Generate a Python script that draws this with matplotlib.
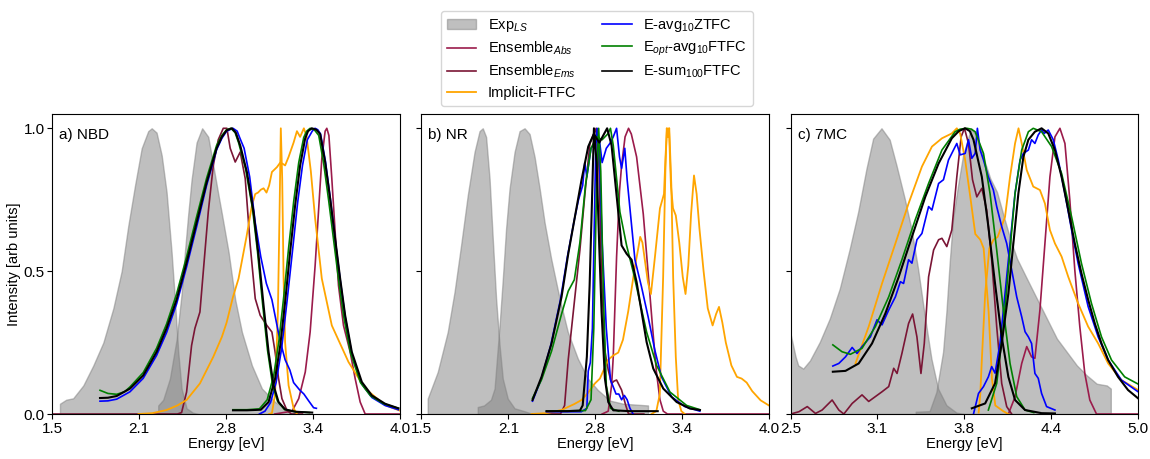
import numpy as np
import matplotlib
matplotlib.use('Agg')
import matplotlib.pyplot as plt
from matplotlib.patches import Patch
from matplotlib.lines import Line2D
from matplotlib.ticker import FormatStrFormatter

plt.rcParams['font.family'] = ['Liberation Sans', 'DejaVu Sans']
plt.rcParams['font.size'] = 10.5
plt.rcParams['mathtext.fontset'] = 'custom'
plt.rcParams['mathtext.rm'] = 'Liberation Sans'
plt.rcParams['mathtext.it'] = 'Liberation Sans:italic'

# colours
c_abs = '#9b1b4b'
c_ems = '#7a1535'
c_impl = 'orange'
c_zt = 'blue'
c_opt = 'green'
c_sum = 'black'

# ---------------- a) NBD ----------------
nbd_exp_1 = [(1.555, 0.036), (1.60, 0.05), (1.65, 0.055), (1.723, 0.10), (1.795, 0.17), (1.867, 0.25),
             (1.939, 0.37), (1.999, 0.50), (2.047, 0.66), (2.095, 0.80), (2.143, 0.93), (2.19, 0.99),
             (2.215, 1.0), (2.25, 0.985), (2.287, 0.905), (2.322, 0.777), (2.358, 0.567), (2.382, 0.40),
             (2.406, 0.217), (2.43, 0.089), (2.466, 0.02), (2.51, 0.005), (2.55, 0.0)]
nbd_exp_2 = [(2.262, 0.03), (2.298, 0.05), (2.346, 0.124), (2.394, 0.26), (2.43, 0.42), (2.454, 0.567),
             (2.478, 0.70), (2.502, 0.82), (2.538, 0.95), (2.578, 1.0), (2.622, 0.97), (2.658, 0.87),
             (2.694, 0.77), (2.72, 0.70), (2.768, 0.567), (2.816, 0.40), (2.864, 0.287), (2.936, 0.17),
             (3.008, 0.089), (3.103, 0.042), (3.2, 0.014), (3.27, 0.005)]
nbd_ens_ems = [(1.5, 0.0), (2.40, 0.0), (2.43, 0.005), (2.466, 0.077), (2.502, 0.24), (2.526, 0.30),
               (2.562, 0.357), (2.586, 0.497), (2.622, 0.707), (2.658, 0.87), (2.694, 0.96), (2.73, 1.0),
               (2.756, 1.0), (2.78, 0.93), (2.816, 0.882), (2.852, 0.917), (2.888, 0.824), (2.924, 0.59),
               (2.96, 0.404), (2.996, 0.345), (3.044, 0.31), (3.08, 0.287), (3.103, 0.217), (3.128, 0.124),
               (3.152, 0.054), (3.188, 0.013), (3.22, 0.0), (3.3, 0.0)]
nbd_ens_abs = [(3.1, 0.0), (3.225, 0.01), (3.273, 0.054), (3.32, 0.147), (3.355, 0.287), (3.391, 0.52),
               (3.415, 0.707), (3.439, 0.894), (3.463, 0.99), (3.475, 1.0), (3.49, 0.975), (3.511, 0.824),
               (3.535, 0.637), (3.559, 0.45), (3.595, 0.31), (3.643, 0.217), (3.679, 0.124), (3.715, 0.042),
               (3.751, 0.0), (4.0, 0.0)]
nbd_impl_1 = [(2.12, 0.0), (2.22, 0.003), (2.322, 0.014), (2.40, 0.03), (2.466, 0.049), (2.562, 0.107),
              (2.658, 0.20), (2.72, 0.27), (2.754, 0.32), (2.80, 0.41), (2.84, 0.474), (2.897, 0.62),
              (2.936, 0.73), (2.96, 0.77), (2.98, 0.775), (3.0, 0.785), (3.02, 0.79), (3.041, 0.775),
              (3.06, 0.80), (3.08, 0.847), (3.116, 0.864), (3.14, 0.88), (3.16, 0.875), (3.175, 0.87),
              (3.2, 0.90), (3.236, 0.95), (3.26, 0.99), (3.283, 0.97), (3.31, 1.0), (3.33, 0.97),
              (3.36, 0.85), (3.391, 0.684), (3.439, 0.474), (3.511, 0.31), (3.631, 0.182), (3.751, 0.089),
              (3.894, 0.031), (4.0, 0.012)]
nbd_impl_2 = [(3.06, 0.0), (3.08, 0.003), (3.103, 0.07), (3.123, 0.357), (3.135, 0.707), (3.144, 1.0),
              (3.154, 0.824), (3.164, 0.474), (3.175, 0.25), (3.2, 0.10), (3.236, 0.02), (3.26, 0.0)]
nbd_zt_ems = [(1.843, 0.045), (1.90, 0.046), (1.963, 0.052), (2.059, 0.078), (2.154, 0.125), (2.25, 0.205),
              (2.322, 0.285), (2.394, 0.385), (2.466, 0.515), (2.538, 0.655), (2.61, 0.80), (2.682, 0.925),
              (2.72, 0.965), (2.754, 0.99), (2.80, 1.0), (2.83, 0.99), (2.85, 0.965), (2.88, 0.93),
              (2.92, 0.83), (2.96, 0.67), (3.0, 0.55), (3.04, 0.457), (3.08, 0.40), (3.137, 0.26),
              (3.175, 0.19), (3.209, 0.154), (3.236, 0.11), (3.28, 0.084), (3.31, 0.07), (3.343, 0.047),
              (3.38, 0.022), (3.40, 0.02)]
nbd_zt_abs = [(2.99, 0.0), (3.03, 0.01), (3.07, 0.04), (3.11, 0.11), (3.15, 0.23), (3.19, 0.40),
              (3.23, 0.58), (3.265, 0.74), (3.30, 0.87), (3.335, 0.96), (3.37, 0.99), (3.39, 1.0),
              (3.41, 0.995), (3.43, 0.98), (3.465, 0.885), (3.50, 0.755), (3.535, 0.61), (3.571, 0.47),
              (3.607, 0.34), (3.655, 0.21), (3.727, 0.105), (3.799, 0.058), (3.894, 0.03), (3.99, 0.015)]
nbd_opt_ems = [(1.843, 0.083), (1.90, 0.072), (1.963, 0.069), (2.02, 0.078), (2.059, 0.095), (2.154, 0.145),
               (2.25, 0.23), (2.322, 0.315), (2.394, 0.42), (2.466, 0.55), (2.538, 0.69), (2.61, 0.825),
               (2.682, 0.94), (2.72, 0.975), (2.754, 0.995), (2.785, 1.0), (2.815, 0.985), (2.84, 0.95),
               (2.89, 0.86), (2.94, 0.72), (2.976, 0.57), (3.012, 0.39), (3.048, 0.225), (3.084, 0.105),
               (3.12, 0.045), (3.17, 0.016), (3.25, 0.008), (3.35, 0.005)]
nbd_opt_abs = [(2.80, 0.015), (2.90, 0.015), (2.99, 0.018), (3.046, 0.05), (3.093, 0.135), (3.13, 0.255),
               (3.165, 0.41), (3.201, 0.585), (3.237, 0.745), (3.273, 0.88), (3.309, 0.968), (3.33, 0.99),
               (3.355, 1.0), (3.385, 0.995), (3.417, 0.975), (3.453, 0.875), (3.489, 0.745),
               (3.525, 0.605), (3.561, 0.465), (3.597, 0.34), (3.645, 0.215), (3.717, 0.11),
               (3.789, 0.064), (3.884, 0.036), (3.99, 0.02)]
nbd_sum_ems = [(1.843, 0.056), (1.90, 0.057), (1.963, 0.063), (2.059, 0.089), (2.154, 0.135), (2.25, 0.217),
               (2.322, 0.30), (2.394, 0.40), (2.466, 0.53), (2.538, 0.67), (2.61, 0.81), (2.682, 0.93),
               (2.72, 0.97), (2.754, 0.993), (2.792, 1.0), (2.82, 0.985), (2.852, 0.94), (2.90, 0.847),
               (2.948, 0.707), (2.984, 0.555), (3.02, 0.38), (3.056, 0.217), (3.092, 0.10), (3.128, 0.042),
               (3.175, 0.016), (3.25, 0.008), (3.37, 0.005)]
nbd_sum_abs = [(2.80, 0.013), (2.90, 0.013), (3.0, 0.015), (3.056, 0.042), (3.103, 0.124), (3.14, 0.24),
               (3.175, 0.392), (3.211, 0.567), (3.247, 0.73), (3.283, 0.87), (3.319, 0.964), (3.34, 0.99),
               (3.367, 1.0), (3.40, 0.995), (3.427, 0.98), (3.463, 0.882), (3.499, 0.754), (3.535, 0.614),
               (3.571, 0.474), (3.607, 0.345), (3.655, 0.217), (3.727, 0.112), (3.799, 0.065),
               (3.894, 0.036), (3.99, 0.02)]

# ---------------- b) NR ----------------
nr_exp_1 = [(1.545, 0.054), (1.617, 0.147), (1.689, 0.287), (1.738, 0.427), (1.785, 0.59), (1.833, 0.765),
            (1.882, 0.917), (1.918, 0.99), (1.941, 1.0), (1.965, 0.97), (1.99, 0.824), (2.013, 0.614),
            (2.037, 0.404), (2.062, 0.24), (2.085, 0.124), (2.121, 0.054), (2.17, 0.02), (2.24, 0.01),
            (2.30, 0.0)]
nr_exp_2 = [(1.905, 0.0245), (1.95, 0.03), (2.0, 0.05), (2.026, 0.089), (2.062, 0.31), (2.085, 0.47),
            (2.109, 0.649), (2.134, 0.789), (2.17, 0.917), (2.206, 0.99), (2.242, 1.0), (2.278, 0.98),
            (2.314, 0.90), (2.35, 0.79), (2.386, 0.67), (2.433, 0.544), (2.494, 0.404), (2.553, 0.287),
            (2.625, 0.194), (2.697, 0.124), (2.769, 0.084), (2.856, 0.047), (2.952, 0.036), (3.13, 0.03)]
nr_ens_ems = [(2.30, 0.0), (2.50, 0.0), (2.53, 0.03), (2.556, 0.19), (2.604, 0.41), (2.64, 0.574),
              (2.676, 0.77), (2.712, 0.947), (2.757, 1.0), (2.776, 0.88), (2.796, 0.48), (2.82, 0.22),
              (2.844, 0.154), (2.868, 0.107), (2.885, 0.115), (2.904, 0.119), (2.94, 0.084), (2.97, 0.03),
              (2.99, 0.0), (3.1, 0.0)]
nr_ens_abs = [(2.80, 0.0), (2.844, 0.01), (2.868, 0.1), (2.88, 0.2), (2.904, 0.55), (2.925, 0.78),
              (2.94, 0.87), (2.965, 0.97), (2.99, 1.0), (3.01, 0.98), (3.048, 0.90), (3.096, 0.70),
              (3.13, 0.50), (3.16, 0.32), (3.19, 0.15), (3.216, 0.05), (3.24, 0.01), (3.27, 0.0), (4.0, 0.0)]
nr_impl_1 = [(2.292, 0.0), (2.40, 0.003), (2.508, 0.014), (2.60, 0.035), (2.652, 0.049), (2.70, 0.075),
             (2.748, 0.107), (2.784, 0.124), (2.844, 0.19), (2.88, 0.205), (2.916, 0.215), (2.95, 0.26),
             (2.988, 0.36), (3.036, 0.516), (3.06, 0.58), (3.074, 0.62), (3.09, 0.60), (3.107, 0.54),
             (3.13, 0.46), (3.151, 0.42), (3.18, 0.55), (3.216, 0.72), (3.245, 0.77), (3.256, 0.9),
             (3.267, 1.0), (3.274, 0.97), (3.281, 1.0), (3.295, 0.8), (3.31, 0.72), (3.33, 0.695),
             (3.355, 0.60), (3.38, 0.48), (3.40, 0.42), (3.42, 0.52), (3.44, 0.70), (3.461, 0.835),
             (3.48, 0.77), (3.50, 0.65), (3.53, 0.50), (3.56, 0.37), (3.595, 0.31), (3.62, 0.35),
             (3.641, 0.375), (3.665, 0.32), (3.69, 0.25), (3.73, 0.17), (3.77, 0.13), (3.804, 0.124),
             (3.84, 0.11), (3.88, 0.08), (3.94, 0.048), (4.0, 0.03)]
nr_impl_2 = [(3.155, 0.0), (3.19, 0.01), (3.215, 0.07), (3.239, 0.48), (3.255, 0.85), (3.265, 1.0),
             (3.274, 0.97), (3.283, 1.0), (3.298, 0.8), (3.311, 0.48), (3.33, 0.2), (3.347, 0.05),
             (3.37, 0.01), (3.395, 0.0)]
nr_zt_ems = [(2.299, 0.045), (2.36, 0.12), (2.43, 0.24), (2.50, 0.40), (2.55, 0.55), (2.60, 0.68),
             (2.63, 0.75), (2.66, 0.80), (2.675, 0.88), (2.69, 0.83), (2.72, 0.93), (2.75, 0.95),
             (2.78, 0.96), (2.80, 0.88), (2.83, 0.93), (2.86, 0.95), (2.88, 0.97), (2.904, 1.0),
             (2.925, 0.90), (2.94, 0.86), (2.963, 0.93), (2.98, 0.82), (3.0, 0.72), (3.036, 0.54),
             (3.083, 0.446), (3.131, 0.34), (3.179, 0.224), (3.227, 0.13), (3.30, 0.06), (3.395, 0.026),
             (3.503, 0.01)]
nr_zt_abs = [(2.40, 0.008), (2.65, 0.008), (2.69, 0.02), (2.70, 0.15), (2.715, 0.18), (2.73, 0.30),
             (2.745, 0.70), (2.755, 0.95), (2.764, 1.0), (2.78, 0.9), (2.80, 0.6), (2.83, 0.30),
             (2.86, 0.12), (2.90, 0.07), (2.92, 0.07), (2.94, 0.05), (2.96, 0.065), (2.98, 0.05),
             (3.0, 0.02), (3.023, 0.0)]
nr_opt_ems = [(2.299, 0.055), (2.364, 0.12), (2.436, 0.22), (2.508, 0.35), (2.556, 0.43), (2.60, 0.47),
              (2.64, 0.60), (2.68, 0.80), (2.72, 0.93), (2.76, 0.97), (2.80, 0.96), (2.84, 0.98),
              (2.86, 1.0), (2.88, 0.94), (2.928, 0.707), (2.976, 0.59), (3.024, 0.497), (3.072, 0.392),
              (3.12, 0.287), (3.192, 0.17), (3.288, 0.077), (3.408, 0.03), (3.504, 0.015)]
nr_opt_abs = [(2.40, 0.01), (2.68, 0.012), (2.72, 0.05), (2.74, 0.3), (2.76, 0.8), (2.775, 1.0),
              (2.79, 0.85), (2.81, 0.4), (2.83, 0.1), (2.86, 0.02), (2.92, 0.01)]
nr_sum_ems = [(2.299, 0.049), (2.364, 0.13), (2.436, 0.247), (2.508, 0.41), (2.556, 0.56), (2.604, 0.69),
              (2.652, 0.82), (2.70, 0.936), (2.74, 0.98), (2.78, 0.95), (2.836, 1.0), (2.868, 0.94),
              (2.904, 0.765), (2.94, 0.59), (2.976, 0.561), (3.012, 0.54), (3.048, 0.462), (3.084, 0.357),
              (3.12, 0.252), (3.168, 0.159), (3.24, 0.089), (3.336, 0.042), (3.432, 0.019), (3.504, 0.014)]
nr_sum_abs = [(2.40, 0.01), (2.55, 0.01), (2.64, 0.012), (2.66, 0.03), (2.69, 0.2), (2.71, 0.45),
              (2.73, 0.8), (2.741, 1.0), (2.76, 0.88), (2.779, 0.59), (2.796, 0.357), (2.82, 0.124),
              (2.844, 0.042), (2.88, 0.013), (3.0, 0.01), (3.20, 0.01)]

# ---------------- c) 7MC ----------------
mc_exp_1 = [(2.5, 0.28), (2.536, 0.2), (2.555, 0.17), (2.591, 0.159), (2.639, 0.187), (2.71, 0.252),
            (2.782, 0.334), (2.854, 0.439), (2.926, 0.579), (2.986, 0.707), (3.046, 0.859), (3.094, 0.964),
            (3.154, 1.0), (3.213, 0.96), (3.262, 0.87), (3.321, 0.754), (3.369, 0.649), (3.417, 0.509),
            (3.465, 0.345), (3.513, 0.194), (3.561, 0.089), (3.621, 0.031), (3.693, 0.005), (3.75, 0.0)]
mc_exp_2 = [(3.40, 0.008), (3.50, 0.01), (3.549, 0.077), (3.597, 0.217), (3.621, 0.357), (3.645, 0.532),
            (3.669, 0.684), (3.705, 0.80), (3.741, 0.905), (3.78, 0.97), (3.80, 1.0), (3.828, 0.98),
            (3.865, 0.93), (3.937, 0.824), (3.985, 0.777), (4.032, 0.695), (4.08, 0.614), (4.129, 0.544),
            (4.2, 0.474), (4.272, 0.404), (4.344, 0.334), (4.416, 0.264), (4.488, 0.217), (4.56, 0.17),
            (4.632, 0.135), (4.703, 0.106), (4.775, 0.10), (4.804, 0.089)]
mc_ens_ems = [(2.5, 0.0), (2.56, 0.008), (2.62, 0.026), (2.679, 0.002), (2.727, 0.014), (2.799, 0.049),
              (2.847, 0.014), (2.883, 0.0), (2.943, 0.037), (3.014, 0.067), (3.062, 0.044), (3.11, 0.061),
              (3.158, 0.078), (3.206, 0.096), (3.242, 0.16), (3.266, 0.142), (3.301, 0.212), (3.349, 0.317),
              (3.378, 0.35), (3.409, 0.27), (3.438, 0.142), (3.462, 0.247), (3.493, 0.48), (3.529, 0.574),
              (3.565, 0.61), (3.589, 0.615), (3.624, 0.586), (3.66, 0.644), (3.696, 0.83), (3.727, 0.97),
              (3.751, 1.0), (3.78, 0.947), (3.809, 0.82), (3.84, 0.76), (3.876, 0.79), (3.911, 0.714),
              (3.947, 0.54), (3.983, 0.306), (4.019, 0.107), (4.055, 0.026), (4.091, 0.0)]
mc_ens_abs = [(4.067, 0.0), (4.115, 0.06), (4.163, 0.177), (4.199, 0.236), (4.234, 0.20), (4.258, 0.195),
              (4.294, 0.364), (4.33, 0.597), (4.366, 0.83), (4.402, 0.97), (4.438, 1.0), (4.474, 0.947),
              (4.509, 0.75), (4.545, 0.504), (4.581, 0.306), (4.617, 0.142), (4.653, 0.049), (4.701, 0.0),
              (5.0, 0.0)]
mc_impl_1 = [(2.967, 0.177), (3.062, 0.306), (3.158, 0.457), (3.254, 0.597), (3.349, 0.737), (3.445, 0.866),
             (3.517, 0.936), (3.589, 0.965), (3.66, 0.982), (3.696, 1.0), (3.72, 0.982), (3.756, 0.889),
             (3.793, 0.76), (3.829, 0.63), (3.865, 0.61), (3.889, 0.58), (3.925, 0.357), (3.949, 0.124),
             (3.973, 0.03), (4.03, 0.01), (4.067, 0.0)]
mc_impl_2 = [(3.853, 0.005), (3.865, 0.07), (3.877, 0.20), (3.90, 0.42), (3.93, 0.58), (3.96, 0.61),
             (3.99, 0.62), (4.043, 0.69), (4.079, 0.83), (4.115, 0.947), (4.14, 1.0), (4.163, 0.947),
             (4.199, 0.854), (4.246, 0.796), (4.294, 0.784), (4.33, 0.737), (4.366, 0.644), (4.402, 0.597),
             (4.45, 0.551), (4.498, 0.48), (4.569, 0.387), (4.641, 0.306), (4.713, 0.247), (4.785, 0.177),
             (4.88, 0.119), (5.0, 0.084)]
mc_zt_ems = [(2.804, 0.168), (2.847, 0.177), (2.895, 0.2), (2.943, 0.233), (2.978, 0.212), (3.014, 0.236),
             (3.074, 0.27), (3.122, 0.33), (3.158, 0.312), (3.206, 0.364), (3.254, 0.41), (3.29, 0.463),
             (3.313, 0.457), (3.349, 0.54), (3.373, 0.528), (3.409, 0.61), (3.445, 0.632), (3.493, 0.726),
             (3.517, 0.714), (3.565, 0.807), (3.60, 0.82), (3.636, 0.889), (3.672, 0.924), (3.696, 0.947),
             (3.72, 0.907), (3.756, 0.912), (3.78, 0.96), (3.804, 0.895), (3.828, 0.912), (3.844, 1.0),
             (3.864, 0.924), (3.888, 0.889), (3.923, 0.83), (3.959, 0.784), (3.983, 0.726), (4.019, 0.656),
             (4.055, 0.597), (4.091, 0.504), (4.127, 0.41), (4.163, 0.34), (4.187, 0.288), (4.211, 0.27),
             (4.234, 0.247), (4.258, 0.142), (4.282, 0.125), (4.306, 0.072), (4.342, 0.026), (4.402, 0.014)]
mc_zt_abs = [(3.816, 0.0), (3.852, 0.072), (3.888, 0.096), (3.923, 0.13), (3.947, 0.166), (3.971, 0.143),
             (4.007, 0.247), (4.043, 0.422), (4.079, 0.597), (4.115, 0.772), (4.151, 0.889), (4.175, 0.912),
             (4.211, 0.924), (4.234, 0.96), (4.258, 0.947), (4.282, 0.977), (4.306, 0.994), (4.325, 0.982),
             (4.354, 0.994), (4.39, 0.96), (4.426, 0.889), (4.474, 0.772), (4.522, 0.644), (4.569, 0.527),
             (4.641, 0.376), (4.713, 0.27), (4.785, 0.189), (4.88, 0.119), (5.0, 0.078)]
mc_opt_ems = [(2.804, 0.242), (2.87, 0.218), (2.93, 0.209), (3.014, 0.23), (3.11, 0.306), (3.206, 0.41),
              (3.301, 0.54), (3.397, 0.68), (3.493, 0.807), (3.589, 0.924), (3.684, 0.988), (3.72, 0.997),
              (3.768, 1.0), (3.80, 0.997), (3.828, 0.988), (3.888, 0.912), (3.935, 0.772), (3.983, 0.574),
              (4.031, 0.364), (4.079, 0.177), (4.127, 0.061), (4.187, 0.014), (4.25, 0.005)]
mc_opt_abs = [(3.923, 0.014), (3.983, 0.107), (4.031, 0.306), (4.079, 0.574), (4.115, 0.772), (4.163, 0.924),
              (4.211, 0.988), (4.246, 1.0), (4.306, 0.988), (4.378, 0.936), (4.45, 0.842), (4.522, 0.69),
              (4.593, 0.527), (4.665, 0.387), (4.737, 0.27), (4.809, 0.189), (4.904, 0.13), (5.0, 0.105)]
mc_sum_ems = [(2.804, 0.148), (2.895, 0.151), (2.99, 0.177), (3.086, 0.247), (3.182, 0.352), (3.278, 0.48),
              (3.373, 0.62), (3.469, 0.76), (3.565, 0.877), (3.66, 0.965), (3.71, 0.99), (3.756, 1.0),
              (3.79, 0.99), (3.816, 0.96), (3.876, 0.83), (3.923, 0.656), (3.971, 0.457), (4.019, 0.27),
              (4.067, 0.13), (4.115, 0.049), (4.187, 0.014), (4.306, 0.003), (4.402, 0.002)]
mc_sum_abs = [(3.804, 0.02), (3.90, 0.037), (3.971, 0.107), (4.019, 0.247), (4.067, 0.422), (4.103, 0.597),
              (4.139, 0.772), (4.175, 0.90), (4.211, 0.96), (4.258, 0.988), (4.306, 1.0), (4.354, 0.982),
              (4.402, 0.924), (4.45, 0.83), (4.498, 0.714), (4.545, 0.597), (4.593, 0.492), (4.641, 0.40),
              (4.689, 0.317), (4.737, 0.247), (4.785, 0.189), (4.856, 0.13), (4.928, 0.084), (5.0, 0.055)]

panels = [
    ('a) NBD', (1.5, 4.0), [nbd_exp_1, nbd_exp_2],
     [nbd_ens_abs, nbd_ens_ems, nbd_impl_1, nbd_impl_2, nbd_zt_ems, nbd_zt_abs,
      nbd_opt_ems, nbd_opt_abs, nbd_sum_ems, nbd_sum_abs]),
    ('b) NR', (1.5, 4.0), [nr_exp_1, nr_exp_2],
     [nr_ens_abs, nr_ens_ems, nr_impl_1, nr_impl_2, nr_zt_ems, nr_zt_abs,
      nr_opt_ems, nr_opt_abs, nr_sum_ems, nr_sum_abs]),
    ('c) 7MC', (2.5, 5.0), [mc_exp_1, mc_exp_2],
     [mc_ens_abs, mc_ens_ems, mc_impl_1, mc_impl_2, mc_zt_ems, mc_zt_abs,
      mc_opt_ems, mc_opt_abs, mc_sum_ems, mc_sum_abs]),
]
line_styles = [(c_abs, 1.2), (c_ems, 1.2), (c_impl, 1.3), (c_impl, 1.3), (c_zt, 1.2), (c_zt, 1.2),
               (c_opt, 1.2), (c_opt, 1.2), (c_sum, 1.5), (c_sum, 1.5)]

fig, axes = plt.subplots(1, 3, figsize=(11.5, 4.59), dpi=100, sharey=True)
fig.subplots_adjust(left=0.0455, right=0.9896, bottom=0.098, top=0.7516, wspace=0.0624)

for ax, (label, xlim, exps, curves) in zip(axes, panels):
    for exp in exps:
        x, y = zip(*exp)
        ax.fill_between(x, y, color='grey', alpha=0.5, lw=1)
    for pts, (col, lw) in zip(curves, line_styles):
        x, y = zip(*pts)
        ax.plot(x, y, color=col, lw=lw)
    ax.set_xlim(*xlim)
    ax.set_xticks(np.linspace(xlim[0], xlim[1], 5))
    ax.xaxis.set_major_formatter(FormatStrFormatter('%.1f'))
    ax.set_xlabel('Energy [eV]', labelpad=1)
    ax.tick_params(labelsize=11, pad=2)
    ax.text(0.02, 0.955, label, transform=ax.transAxes, va='top', ha='left', fontsize=11)

axes[0].set_ylim(0, 1.05)
axes[0].set_yticks([0.0, 0.5, 1.0])
axes[0].yaxis.set_major_formatter(FormatStrFormatter('%.1f'))
axes[0].set_ylabel('Intensity [arb units]', labelpad=2)

handles = [
    Patch(facecolor='grey', edgecolor='grey', alpha=0.5, label='Exp$_{LS}$'),
    Line2D([], [], color=c_abs, lw=1.2, label='Ensemble$_{Abs}$'),
    Line2D([], [], color=c_ems, lw=1.2, label='Ensemble$_{Ems}$'),
    Line2D([], [], color=c_impl, lw=1.3, label='Implicit-FTFC'),
    Line2D([], [], color=c_zt, lw=1.2, label='E-avg$_{10}$ZTFC'),
    Line2D([], [], color=c_opt, lw=1.2, label='E$_{opt}$-avg$_{10}$FTFC'),
    Line2D([], [], color=c_sum, lw=1.2, label='E-sum$_{100}$FTFC'),
]
fig.legend(handles=handles, loc='upper center', bbox_to_anchor=(0.519, 0.992), ncol=2,
           columnspacing=1.8, handlelength=2.0, labelspacing=0.4, borderpad=0.4)

fig.savefig('out.png', dpi=100)
